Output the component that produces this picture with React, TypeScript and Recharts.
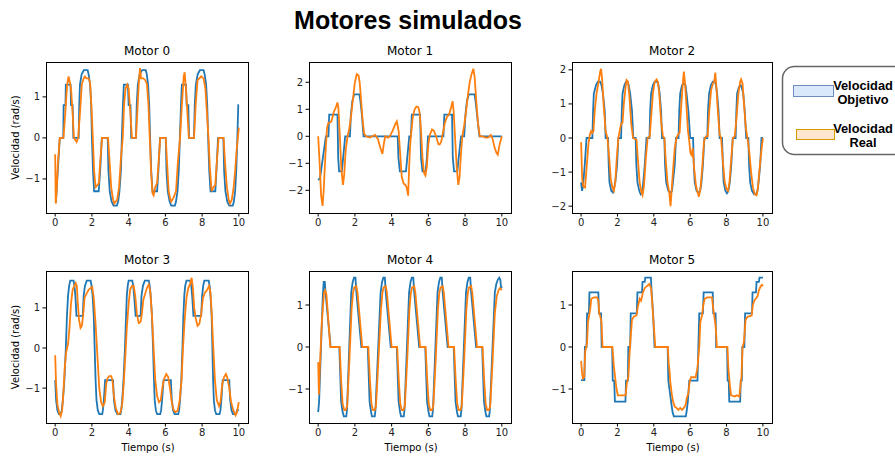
import React from 'react';
import { LineChart, Line, XAxis, YAxis } from 'recharts';

// Velocidad objetivo / real por motor, pares [tiempo (s), velocidad (rad/s)]
const m0Objetivo: [number, number][] = [
  [0, -1.55], [0.04, -1.55], [0.25, 0], [0.44, 0], [0.46, 0.8], [0.56, 0.8], [0.58, 1.3], [0.84, 1.3], [0.86, 0.8], [0.95, 0.8],
  [0.99, 0], [1.28, 0], [1.31, 0.8], [1.35, 1.3], [1.44, 1.55], [1.56, 1.65], [1.77, 1.65], [1.82, 1.55], [1.9, 1.3], [1.96, 0.8],
  [2.0, 0], [2.06, -0.8], [2.12, -1.3], [2.37, -1.3], [2.45, -0.8], [2.54, 0], [2.86, 0], [2.9, -0.8], [2.97, -1.3], [3.07, -1.55],
  [3.18, -1.65], [3.36, -1.65], [3.43, -1.55], [3.5, -1.3], [3.58, -0.8], [3.63, 0], [3.69, 0.8], [3.74, 1.3], [3.96, 1.3], [4.0, 0.8],
  [4.1, 0.8], [4.14, 0], [4.4, 0], [4.44, 0.8], [4.5, 1.3], [4.6, 1.55], [4.73, 1.65], [4.93, 1.65], [4.99, 1.55], [5.06, 1.3],
  [5.12, 0.8], [5.17, 0], [5.23, -0.8], [5.3, -1.3], [5.55, -1.3], [5.62, -0.8], [5.71, 0], [6.02, 0], [6.06, -0.8], [6.13, -1.3],
  [6.23, -1.55], [6.32, -1.65], [6.52, -1.65], [6.58, -1.55], [6.66, -1.3], [6.73, -0.8], [6.79, 0], [6.85, 0.8], [6.9, 1.3], [7.12, 1.3],
  [7.16, 0.8], [7.25, 0.8], [7.29, 0], [7.56, 0], [7.6, 0.8], [7.66, 1.3], [7.76, 1.55], [7.88, 1.65], [8.08, 1.65], [8.14, 1.55],
  [8.22, 1.3], [8.28, 0.8], [8.33, 0], [8.39, -0.8], [8.46, -1.3], [8.72, -1.3], [8.78, -0.8], [8.87, 0], [9.16, 0], [9.2, -0.8],
  [9.27, -1.3], [9.37, -1.55], [9.48, -1.65], [9.67, -1.65], [9.73, -1.55], [9.8, -1.3], [9.86, -0.8], [9.92, 0], [9.97, 0.8], [10, 0.8],
];
const m0Real: [number, number][] = [
  [0, -0.4], [0.03, -1.6], [0.08, -1.3], [0.15, -0.6], [0.25, 0], [0.45, 0], [0.55, 0.6], [0.65, 1.3], [0.73, 1.5], [0.8, 1.35],
  [0.87, 1.15], [0.95, 0.6], [1.02, 0], [1.1, -0.05], [1.17, -0.1], [1.25, 0], [1.35, 0.6], [1.45, 1.3], [1.55, 1.45], [1.62, 1.5],
  [1.7, 1.45], [1.82, 1.45], [1.9, 1.35], [1.97, 0.8], [2.05, 0], [2.12, -0.8], [2.2, -1.2], [2.3, -1.15], [2.38, -1.1], [2.45, -0.6],
  [2.55, 0], [2.88, 0], [2.95, -0.5], [3.05, -1.2], [3.15, -1.5], [3.22, -1.6], [3.3, -1.55], [3.38, -1.5], [3.48, -1.2], [3.58, -0.5],
  [3.68, 0], [3.75, 0.8], [3.83, 1.2], [3.92, 1.3], [4.0, 1.2], [4.08, 0.7], [4.18, 0], [4.4, 0], [4.47, 0.6], [4.55, 1.3],
  [4.62, 1.7], [4.68, 1.45], [4.8, 1.45], [4.92, 1.4], [5.0, 1.3], [5.08, 0.8], [5.15, 0], [5.22, -0.8], [5.3, -1.35], [5.36, -1.4],
  [5.45, -1.2], [5.55, -1.1], [5.63, -0.6], [5.72, 0], [6.02, 0], [6.08, -0.5], [6.18, -1.3], [6.27, -1.5], [6.32, -1.55], [6.45, -1.45],
  [6.58, -1.3], [6.68, -0.6], [6.8, 0], [6.9, 0.8], [7.0, 1.5], [7.05, 1.6], [7.12, 1.2], [7.2, 0.6], [7.28, 0], [7.56, 0],
  [7.65, 0.8], [7.75, 1.4], [7.85, 1.45], [7.95, 1.5], [8.08, 1.45], [8.18, 1.2], [8.28, 0.5], [8.35, 0], [8.42, -0.7], [8.52, -1.3],
  [8.62, -1.2], [8.72, -1.15], [8.8, -0.6], [8.9, 0], [9.17, 0], [9.25, -0.6], [9.35, -1.2], [9.45, -1.5], [9.52, -1.6], [9.62, -1.5],
  [9.72, -1.2], [9.8, -0.8], [9.88, -0.3], [9.95, 0], [10, 0.25],
];

const m1Objetivo: [number, number][] = [
  [0, -1.62], [0.1, -1.55], [0.42, 0], [0.56, 0], [0.6, 0.8], [1.05, 0.8], [1.09, -0.8], [1.14, -1.3], [1.29, -1.3], [1.36, -0.8],
  [1.47, 0], [1.73, 0], [1.78, 0.8], [1.86, 1.3], [1.96, 1.55], [2.24, 1.55], [2.3, 1.3], [2.38, 0.8], [2.47, 0], [4.33, 0],
  [4.37, -0.8], [4.45, -1.3], [4.78, -1.3], [4.85, -0.8], [4.96, 0], [5.05, 0], [5.1, 0.8], [5.55, 0.8], [5.6, -0.8], [5.68, -1.3],
  [5.85, -1.3], [5.92, -0.8], [5.98, 0], [6.82, 0], [6.87, 0.8], [7.29, 0.8], [7.33, -0.8], [7.4, -1.3], [7.58, -1.3], [7.65, -0.8],
  [7.78, 0], [7.95, 0], [8.02, 0.8], [8.1, 1.3], [8.2, 1.55], [8.51, 1.55], [8.57, 1.3], [8.65, 0.8], [8.78, 0], [10, 0],
];
const m1Real: [number, number][] = [
  [0, 0], [0.08, -1.0], [0.16, -2.2], [0.24, -2.58], [0.3, -2.0], [0.4, -0.6], [0.48, 0.3], [0.55, 0.5], [0.62, 0.5], [0.72, 0.55],
  [0.85, 0.9], [0.95, 1.05], [1.05, 1.25], [1.1, 1.05], [1.18, 0], [1.26, -1.2], [1.35, -1.8], [1.42, -1.4], [1.5, -0.5], [1.6, 0],
  [1.7, 0.3], [1.8, 0.8], [1.9, 1.4], [2.0, 2.0], [2.1, 2.3], [2.2, 2.25], [2.26, 2.0], [2.33, 1.4], [2.42, 0.6], [2.5, 0.1],
  [2.6, 0], [2.8, -0.05], [2.95, 0], [3.1, 0.05], [3.25, -0.1], [3.4, -0.45], [3.5, -0.65], [3.57, -0.3], [3.65, 0], [3.8, -0.05],
  [3.9, 0], [4.05, 0.2], [4.2, 0.45], [4.28, 0.55], [4.38, 0.2], [4.45, -0.5], [4.55, -1.5], [4.65, -1.75], [4.75, -1.8], [4.82, -1.9],
  [4.9, -2.2], [4.95, -1.2], [5.0, -0.4], [5.05, 0], [5.15, 0.7], [5.25, 1.0], [5.35, 1.1], [5.45, 1.08], [5.52, 0.9], [5.6, 0.2],
  [5.68, -0.8], [5.76, -1.35], [5.84, -1.45], [5.92, -1.1], [6.0, -0.3], [6.08, 0.05], [6.2, 0.25], [6.3, 0.2], [6.42, 0], [6.55, -0.3],
  [6.62, -0.3], [6.7, -0.2], [6.8, 0.15], [6.9, 0.5], [7.0, 0.7], [7.15, 0.85], [7.25, 1.1], [7.32, 1.3], [7.38, 0.9], [7.45, 0],
  [7.55, -1.2], [7.63, -1.8], [7.7, -1.5], [7.78, -0.6], [7.85, 0], [7.95, 0.4], [8.05, 0.9], [8.15, 1.5], [8.25, 2.0], [8.35, 2.3],
  [8.45, 2.5], [8.52, 2.2], [8.6, 1.4], [8.7, 0.5], [8.8, 0], [8.95, 0], [9.1, -0.05], [9.25, -0.05], [9.4, 0.05], [9.5, -0.1],
  [9.6, -0.4], [9.7, -0.6], [9.78, -0.68], [9.88, -0.3], [10, 0],
];

const m2Objetivo: [number, number][] = [
  [0, -1.3], [0.05, -1.55], [0.1, -1.45], [0.2, -0.8], [0.3, 0], [0.62, 0], [0.66, 0.8], [0.7, 1.3], [0.82, 1.55], [0.92, 1.65],
  [1.05, 1.65], [1.12, 1.55], [1.2, 1.3], [1.3, 0.8], [1.35, 0], [1.48, 0], [1.52, -0.8], [1.56, -1.3], [1.66, -1.55], [1.75, -1.6],
  [1.8, -1.5], [1.88, -1.3], [1.98, -0.8], [2.05, 0], [2.2, 0], [2.24, 0.8], [2.28, 1.3], [2.38, 1.55], [2.47, 1.65], [2.56, 1.65],
  [2.62, 1.55], [2.7, 1.3], [2.8, 0.8], [2.87, 0], [3.0, 0], [3.04, -0.8], [3.1, -1.3], [3.2, -1.55], [3.28, -1.65], [3.36, -1.6],
  [3.42, -1.3], [3.5, -0.8], [3.6, 0], [3.76, 0], [3.8, 0.8], [3.85, 1.3], [3.95, 1.55], [4.05, 1.65], [4.2, 1.65], [4.26, 1.55],
  [4.32, 1.3], [4.4, 0.8], [4.45, 0], [4.58, 0], [4.62, -0.8], [4.68, -1.3], [4.8, -1.55], [4.93, -1.6], [5.0, -1.55], [5.05, -1.3],
  [5.15, -0.8], [5.22, 0], [5.36, 0], [5.4, 0.8], [5.45, 1.3], [5.55, 1.55], [5.66, 1.6], [5.74, 1.55], [5.8, 1.3], [5.9, 0.8],
  [6.0, 0], [6.16, 0], [6.2, -0.8], [6.25, -1.3], [6.35, -1.55], [6.45, -1.6], [6.55, -1.55], [6.62, -1.3], [6.7, -0.8], [6.78, 0],
  [6.94, 0], [6.98, 0.8], [7.04, 1.3], [7.14, 1.55], [7.25, 1.65], [7.36, 1.65], [7.42, 1.55], [7.48, 1.3], [7.56, 0.8], [7.62, 0],
  [7.75, 0], [7.8, -0.8], [7.84, -1.3], [7.94, -1.55], [8.02, -1.62], [8.1, -1.55], [8.18, -1.3], [8.26, -0.8], [8.34, 0], [8.5, 0],
  [8.54, 0.8], [8.58, 1.3], [8.68, 1.5], [8.78, 1.55], [8.85, 1.45], [8.92, 1.3], [9.0, 0.8], [9.08, 0], [9.2, 0], [9.24, -0.8],
  [9.3, -1.3], [9.4, -1.55], [9.52, -1.65], [9.62, -1.65], [9.7, -1.55], [9.76, -1.3], [9.85, -0.8], [9.92, 0], [10, 0],
];
const m2Real: [number, number][] = [
  [0, -0.12], [0.06, -1.2], [0.12, -1.42], [0.22, -1.45], [0.3, -0.9], [0.4, -0.2], [0.48, 0.1], [0.55, 0.2], [0.62, 0.15], [0.68, 0.2],
  [0.75, 0.8], [0.85, 1.3], [0.95, 1.6], [1.05, 1.95], [1.1, 2.03], [1.16, 1.7], [1.25, 0.9], [1.35, 0.2], [1.45, 0], [1.55, -0.6],
  [1.63, -1.2], [1.72, -1.45], [1.8, -1.55], [1.88, -1.3], [1.96, -0.6], [2.05, 0], [2.12, 0.2], [2.2, 0.42], [2.28, 0.45], [2.35, 1.0],
  [2.45, 1.5], [2.5, 1.7], [2.58, 1.65], [2.66, 1.2], [2.76, 0.4], [2.86, 0], [3.05, -0.05], [3.12, -0.6], [3.22, -1.3], [3.32, -1.6],
  [3.38, -1.68], [3.46, -1.4], [3.56, -0.6], [3.66, 0], [3.78, 0.05], [3.85, 0.6], [3.95, 1.3], [4.05, 1.65], [4.15, 1.72], [4.22, 1.65],
  [4.3, 1.3], [4.4, 0.5], [4.5, 0.05], [4.58, 0], [4.65, -0.6], [4.75, -1.3], [4.85, -1.6], [4.92, -2.0], [4.98, -1.55], [5.05, -1.0],
  [5.15, -0.3], [5.25, 0], [5.35, 0.12], [5.42, 0.15], [5.5, 0.9], [5.58, 1.5], [5.65, 1.95], [5.72, 1.6], [5.8, 0.9], [5.88, 0.2],
  [5.95, -0.1], [6.02, -0.45], [6.08, -0.5], [6.14, -0.3], [6.22, -0.9], [6.32, -1.4], [6.42, -1.62], [6.48, -1.72], [6.56, -1.5], [6.66, -0.9],
  [6.76, -0.1], [6.86, 0.05], [6.96, 0.05], [7.05, 0.8], [7.15, 1.4], [7.25, 1.6], [7.32, 1.65], [7.38, 1.92], [7.44, 1.5], [7.52, 0.8],
  [7.62, 0.1], [7.7, 0], [7.8, -0.7], [7.9, -1.3], [8.0, -1.5], [8.08, -1.55], [8.16, -1.3], [8.26, -0.6], [8.35, 0], [8.45, 0.05],
  [8.55, 0.6], [8.65, 1.3], [8.75, 1.65], [8.8, 1.72], [8.88, 1.6], [8.96, 1.0], [9.06, 0.3], [9.15, 0], [9.25, -0.4], [9.35, -1.0],
  [9.45, -1.45], [9.55, -1.65], [9.65, -1.68], [9.72, -1.5], [9.8, -1.0], [9.9, -0.45], [10, 0],
];

const m3Objetivo: [number, number][] = [
  [0, -0.8], [0.05, -1.3], [0.12, -1.55], [0.2, -1.65], [0.3, -1.65], [0.36, -1.55], [0.42, -1.3], [0.5, -0.8], [0.58, 0], [0.64, 0.8],
  [0.7, 1.3], [0.76, 1.55], [0.82, 1.68], [1.0, 1.68], [1.05, 1.55], [1.1, 1.3], [1.16, 0.8], [1.5, 0.8], [1.55, 1.3], [1.62, 1.55],
  [1.72, 1.68], [1.93, 1.68], [1.98, 1.55], [2.04, 1.3], [2.1, 0.8], [2.15, 0], [2.2, -0.8], [2.25, -1.3], [2.32, -1.55], [2.4, -1.65],
  [2.56, -1.65], [2.6, -1.55], [2.65, -1.3], [2.72, -0.8], [3.15, -0.8], [3.2, -1.3], [3.28, -1.55], [3.38, -1.65], [3.55, -1.65], [3.6, -1.55],
  [3.65, -1.3], [3.72, -0.8], [3.8, 0], [3.86, 0.8], [3.9, 1.3], [3.95, 1.55], [4.0, 1.68], [4.2, 1.68], [4.25, 1.55], [4.3, 1.3],
  [4.38, 0.8], [4.65, 0.8], [4.7, 1.3], [4.78, 1.55], [4.88, 1.68], [5.1, 1.68], [5.15, 1.55], [5.2, 1.3], [5.27, 0.8], [5.33, 0],
  [5.38, -0.8], [5.42, -1.3], [5.48, -1.55], [5.55, -1.65], [5.72, -1.65], [5.77, -1.55], [5.82, -1.3], [5.9, -0.8], [6.3, -0.8], [6.35, -1.3],
  [6.42, -1.55], [6.5, -1.65], [6.7, -1.65], [6.75, -1.55], [6.8, -1.3], [6.87, -0.8], [6.93, 0], [6.98, 0.8], [7.03, 1.3], [7.08, 1.55],
  [7.15, 1.68], [7.36, 1.68], [7.41, 1.55], [7.46, 1.3], [7.53, 0.8], [7.95, 0.8], [8.0, 1.3], [8.06, 1.55], [8.12, 1.68], [8.36, 1.68],
  [8.41, 1.55], [8.46, 1.3], [8.52, 0.8], [8.56, 0], [8.6, -0.8], [8.64, -1.3], [8.7, -1.55], [8.77, -1.65], [8.95, -1.65], [9.0, -1.55],
  [9.05, -1.3], [9.12, -0.8], [9.48, -0.8], [9.53, -1.3], [9.6, -1.55], [9.68, -1.65], [9.85, -1.65], [9.9, -1.55], [10, -1.55],
];
const m3Real: [number, number][] = [
  [0, -0.18], [0.05, -0.9], [0.12, -1.4], [0.22, -1.62], [0.3, -1.7], [0.38, -1.55], [0.45, -1.1], [0.52, -0.5], [0.6, -0.1], [0.7, 0.1],
  [0.78, 0.5], [0.86, 1.1], [0.95, 1.45], [1.05, 1.55], [1.12, 1.62], [1.18, 1.55], [1.22, 1.2], [1.3, 0.7], [1.38, 0.5], [1.45, 0.55],
  [1.52, 0.8], [1.6, 1.25], [1.7, 1.35], [1.82, 1.45], [1.95, 1.5], [2.02, 1.52], [2.1, 1.25], [2.2, 0.6], [2.3, -0.2], [2.4, -1.0],
  [2.5, -1.35], [2.6, -1.45], [2.7, -1.35], [2.78, -0.9], [2.85, -0.75], [2.95, -0.7], [3.05, -0.7], [3.12, -0.8], [3.2, -1.2], [3.3, -1.5],
  [3.42, -1.65], [3.55, -1.62], [3.65, -1.4], [3.73, -0.9], [3.82, -0.2], [3.9, 0.5], [4.0, 1.1], [4.08, 1.45], [4.18, 1.55], [4.28, 1.55],
  [4.36, 1.3], [4.45, 0.85], [4.55, 0.62], [4.65, 0.65], [4.72, 0.85], [4.8, 1.2], [4.9, 1.35], [5.0, 1.5], [5.1, 1.58], [5.18, 1.4],
  [5.27, 0.8], [5.36, 0], [5.45, -0.8], [5.55, -1.2], [5.65, -1.35], [5.75, -1.3], [5.85, -0.95], [5.95, -0.75], [6.05, -0.65], [6.15, -0.72],
  [6.25, -1.0], [6.35, -1.35], [6.45, -1.55], [6.55, -1.6], [6.68, -1.55], [6.78, -1.3], [6.88, -0.8], [6.96, 0], [7.05, 0.7], [7.15, 1.25],
  [7.25, 1.5], [7.35, 1.6], [7.43, 1.75], [7.5, 1.5], [7.57, 1.0], [7.65, 0.75], [7.75, 0.55], [7.85, 0.6], [7.95, 0.85], [8.05, 1.25],
  [8.15, 1.38], [8.28, 1.45], [8.38, 1.55], [8.45, 1.4], [8.52, 0.9], [8.6, 0.1], [8.7, -0.8], [8.8, -1.3], [8.92, -1.45], [9.0, -1.35],
  [9.1, -0.9], [9.2, -0.72], [9.3, -0.65], [9.38, -0.75], [9.48, -1.0], [9.58, -1.35], [9.7, -1.55], [9.82, -1.68], [9.9, -1.6], [10, -1.35],
];

const m4Objetivo: [number, number][] = [
  [0, -1.55], [0.05, -1.3], [0.25, 1.2], [0.3, 1.55], [0.36, 1.55], [0.42, 1.2], [0.68, 0], [1.15, 0], [1.25, -1.3], [1.33, -1.55],
  [1.4, -1.65], [1.53, -1.65], [1.57, -1.5], [1.8, 1.3], [1.88, 1.55], [1.95, 1.65], [2.03, 1.65], [2.08, 1.3], [2.35, 0], [2.7, 0],
  [2.8, -1.3], [2.88, -1.55], [2.93, -1.65], [3.08, -1.65], [3.12, -1.5], [3.4, 1.3], [3.48, 1.55], [3.55, 1.65], [3.63, 1.65], [3.68, 1.3],
  [3.95, 0], [4.28, 0], [4.38, -1.3], [4.46, -1.55], [4.51, -1.65], [4.66, -1.65], [4.7, -1.5], [4.95, 1.3], [5.03, 1.55], [5.1, 1.65],
  [5.18, 1.65], [5.23, 1.3], [5.5, 0], [5.83, 0], [5.93, -1.3], [6.01, -1.55], [6.06, -1.65], [6.21, -1.65], [6.25, -1.5], [6.5, 1.3],
  [6.58, 1.55], [6.65, 1.65], [6.73, 1.65], [6.78, 1.3], [7.05, 0], [7.38, 0], [7.48, -1.3], [7.56, -1.55], [7.61, -1.65], [7.76, -1.65],
  [7.8, -1.5], [8.05, 1.3], [8.13, 1.55], [8.2, 1.65], [8.28, 1.65], [8.33, 1.3], [8.6, 0], [8.93, 0], [9.03, -1.3], [9.11, -1.55],
  [9.16, -1.65], [9.31, -1.65], [9.35, -1.5], [9.62, 1.3], [9.7, 1.5], [9.78, 1.6], [9.86, 1.65], [9.92, 1.6], [9.96, 1.4], [10, 1.45],
];
const m4Real: [number, number][] = [
  [0, -0.36], [0.04, -1.13], [0.08, -0.6], [0.2, 0.6], [0.32, 1.3], [0.38, 1.35], [0.45, 1.25], [0.66, 0], [1.17, 0], [1.25, -0.8],
  [1.33, -1.35], [1.42, -1.5], [1.5, -1.5], [1.58, -1.4], [1.7, -0.3], [1.82, 0.9], [1.9, 1.3], [1.97, 1.42], [2.08, 1.45], [2.14, 1.3],
  [2.4, 0], [2.73, 0], [2.82, -0.8], [2.9, -1.35], [2.98, -1.5], [3.08, -1.5], [3.15, -1.4], [3.28, -0.3], [3.42, 0.9], [3.5, 1.3],
  [3.57, 1.42], [3.68, 1.45], [3.74, 1.3], [4.0, 0], [4.3, 0], [4.39, -0.8], [4.47, -1.35], [4.55, -1.5], [4.65, -1.5], [4.72, -1.4],
  [4.85, -0.3], [4.97, 0.9], [5.05, 1.3], [5.12, 1.42], [5.23, 1.45], [5.29, 1.3], [5.55, 0], [5.85, 0], [5.94, -0.8], [6.02, -1.35],
  [6.1, -1.5], [6.2, -1.5], [6.27, -1.4], [6.4, -0.3], [6.52, 0.9], [6.6, 1.3], [6.67, 1.42], [6.78, 1.45], [6.84, 1.3], [7.1, 0],
  [7.4, 0], [7.49, -0.8], [7.57, -1.35], [7.65, -1.5], [7.75, -1.5], [7.82, -1.4], [7.95, -0.3], [8.07, 0.9], [8.15, 1.3], [8.22, 1.42],
  [8.33, 1.45], [8.39, 1.3], [8.65, 0], [8.95, 0], [9.04, -0.8], [9.12, -1.35], [9.2, -1.5], [9.3, -1.5], [9.37, -1.4], [9.5, -0.3],
  [9.62, 0.8], [9.72, 1.2], [9.82, 1.35], [9.9, 1.4], [9.95, 1.38], [10, 1.35],
];

const m5Objetivo: [number, number][] = [
  [0, -0.79], [0.18, -0.79], [0.21, 0], [0.3, 0], [0.33, 0.8], [0.43, 0.8], [0.46, 1.3], [0.95, 1.3], [0.98, 0.8], [1.1, 0.8],
  [1.13, 0], [1.71, 0], [1.74, -0.8], [1.82, -0.8], [1.86, -1.3], [2.44, -1.3], [2.47, -0.8], [2.57, -0.8], [2.6, 0], [2.7, 0],
  [2.73, 0.8], [3.06, 0.8], [3.1, 1.3], [3.35, 1.3], [3.38, 1.55], [3.5, 1.55], [3.53, 1.65], [3.84, 1.65], [3.88, 1.3], [3.96, 0.8],
  [4.04, 0], [4.76, 0], [4.8, -0.8], [4.95, -1.3], [5.03, -1.55], [5.1, -1.65], [5.76, -1.65], [5.8, -1.55], [5.87, -1.3], [5.95, -0.8],
  [6.4, -0.8], [6.45, 0], [6.5, 0.8], [6.7, 0.8], [6.74, 1.3], [7.24, 1.3], [7.27, 0.8], [7.4, 0.8], [7.43, 0], [8.03, 0],
  [8.06, -0.8], [8.12, -0.8], [8.15, -1.3], [8.75, -1.3], [8.78, -0.8], [8.84, -0.8], [8.87, 0], [8.98, 0], [9.02, 0.8], [9.4, 0.8],
  [9.43, 1.3], [9.62, 1.3], [9.65, 1.55], [9.78, 1.55], [9.81, 1.65], [10, 1.65],
];
const m5Real: [number, number][] = [
  [0, -0.33], [0.05, -0.6], [0.1, -0.75], [0.17, -0.72], [0.23, -0.1], [0.28, 0], [0.33, 0.1], [0.38, 0.6], [0.43, 0.72], [0.5, 0.9],
  [0.56, 1.15], [0.7, 1.18], [0.88, 1.18], [0.95, 1.1], [1.0, 0.8], [1.06, 0.72], [1.12, 0.6], [1.18, 0], [1.72, 0], [1.8, -0.45],
  [1.88, -0.75], [1.95, -1.0], [2.02, -1.15], [2.45, -1.15], [2.52, -0.85], [2.6, -0.72], [2.66, -0.2], [2.72, 0.2], [2.8, 0.65], [2.9, 0.72],
  [3.05, 0.75], [3.12, 0.95], [3.22, 1.15], [3.3, 1.1], [3.4, 1.3], [3.5, 1.4], [3.62, 1.45], [3.75, 1.5], [3.85, 1.4], [3.92, 1.0],
  [4.0, 0.5], [4.08, 0], [4.77, 0], [4.82, -0.4], [4.86, -0.55], [4.9, -0.8], [4.98, -1.1], [5.06, -1.3], [5.15, -1.42], [5.25, -1.45],
  [5.35, -1.5], [5.45, -1.45], [5.55, -1.5], [5.65, -1.45], [5.75, -1.38], [5.82, -1.2], [5.9, -1.1], [5.98, -0.8], [6.05, -0.72], [6.3, -0.72],
  [6.4, -0.5], [6.5, 0], [6.56, 0.6], [6.65, 0.75], [6.72, 1.0], [6.8, 1.15], [6.95, 1.18], [7.2, 1.18], [7.27, 0.9], [7.33, 0.72],
  [7.4, 0.5], [7.47, 0], [8.05, 0], [8.1, -0.5], [8.18, -0.9], [8.25, -1.15], [8.45, -1.18], [8.55, -1.15], [8.7, -1.18], [8.77, -0.9],
  [8.82, -0.7], [8.88, 0], [8.95, 0.1], [9.05, 0.65], [9.15, 0.72], [9.38, 0.75], [9.45, 1.0], [9.52, 1.1], [9.6, 1.15], [9.7, 1.2],
  [9.78, 1.35], [9.88, 1.45], [9.95, 1.48], [10, 1.45],
];

const xTicks = [0, 2, 4, 6, 8, 10];
const yTicksSmall = [-1, 0, 1];
const yTicksWide = [-2, -1, 0, 1, 2];

const BLUE = '#1f77b4';
const ORANGE = '#ff7f0e';
const FONT = '"DejaVu Sans", sans-serif';
const SANS = '"Liberation Sans", Arial, sans-serif';
const YW = 40;
const XH = 30;

type Panel = {
  title: string;
  objetivo: [number, number][];
  real: [number, number][];
  yDomain: [number, number];
  yTicks: number[];
  box: { left: number; top: number; width: number; height: number };
  yLabel: boolean;
  xLabel: boolean;
};

const panels: Panel[] = [
  { title: 'Motor 0', objetivo: m0Objetivo, real: m0Real, yDomain: [-1.83, 1.85], yTicks: yTicksSmall, box: { left: 46, top: 62, width: 202, height: 151 }, yLabel: true, xLabel: false },
  { title: 'Motor 1', objetivo: m1Objetivo, real: m1Real, yDomain: [-2.84, 2.75], yTicks: yTicksWide, box: { left: 309, top: 62, width: 202, height: 151 }, yLabel: false, xLabel: false },
  { title: 'Motor 2', objetivo: m2Objetivo, real: m2Real, yDomain: [-2.2, 2.23], yTicks: yTicksWide, box: { left: 572, top: 62, width: 200, height: 151 }, yLabel: false, xLabel: false },
  { title: 'Motor 3', objetivo: m3Objetivo, real: m3Real, yDomain: [-1.87, 1.92], yTicks: yTicksSmall, box: { left: 46, top: 271, width: 202, height: 152 }, yLabel: true, xLabel: true },
  { title: 'Motor 4', objetivo: m4Objetivo, real: m4Real, yDomain: [-1.81, 1.81], yTicks: yTicksSmall, box: { left: 309, top: 271, width: 202, height: 152 }, yLabel: false, xLabel: true },
  { title: 'Motor 5', objetivo: m5Objetivo, real: m5Real, yDomain: [-1.81, 1.81], yTicks: yTicksSmall, box: { left: 572, top: 271, width: 200, height: 152 }, yLabel: false, xLabel: true },
];

const toRows = (pts: [number, number][]) => pts.map(([t, v]) => ({ t, v }));
const fmt = (v: number) => (v < 0 ? `\u2212${Math.abs(v)}` : `${v}`);
const tickStyle = { fontSize: 10, fill: '#222', fontFamily: FONT };

function MotorPanel({ p }: { p: Panel }) {
  const { box } = p;
  return (
    <div style={{ position: 'absolute', left: box.left - YW, top: box.top }}>
      <LineChart width={box.width + YW} height={box.height + XH} margin={{ top: 0, right: 0, bottom: 0, left: 0 }}>
        <XAxis
          dataKey="t"
          type="number"
          domain={[-0.5, 10.5]}
          ticks={xTicks}
          interval={0}
          allowDataOverflow
          height={XH}
          axisLine={false}
          tickSize={3.5}
          tickMargin={2}
          tickLine={{ stroke: '#000' }}
          tick={tickStyle}
        />
        <YAxis
          type="number"
          domain={p.yDomain}
          ticks={p.yTicks}
          interval={0}
          allowDataOverflow
          width={YW}
          axisLine={false}
          tickSize={3.5}
          tickMargin={2.5}
          tickLine={{ stroke: '#000' }}
          tick={tickStyle}
          tickFormatter={fmt}
        />
        <Line data={toRows(p.objetivo)} dataKey="v" name="Velocidad Objetivo" stroke={BLUE} strokeWidth={1.8} dot={false} isAnimationActive={false} />
        <Line data={toRows(p.real)} dataKey="v" name="Velocidad Real" stroke={ORANGE} strokeWidth={1.8} dot={false} isAnimationActive={false} />
      </LineChart>
    </div>
  );
}

export default function App() {
  return (
    <div style={{ position: 'absolute', left: 0, top: 0, width: 895, height: 457, background: '#fff', overflow: 'hidden' }}>
      {panels.map((p) => (
        <MotorPanel key={p.title} p={p} />
      ))}
      <svg width={895} height={457} style={{ position: 'absolute', left: 0, top: 0, pointerEvents: 'none' }}>
        <text x={408} y={29} textAnchor="middle" fontFamily={SANS} fontWeight="bold" fontSize={25} fill="#000">
          Motores simulados
        </text>
        {panels.map((p) => (
          <g key={p.title}>
            <rect x={p.box.left + 0.5} y={p.box.top + 0.5} width={p.box.width} height={p.box.height} fill="none" stroke="#000" strokeWidth={1} />
            <text x={p.box.left + p.box.width / 2} y={p.box.top - 7} textAnchor="middle" fontFamily={FONT} fontSize={12} fill="#000">
              {p.title}
            </text>
            {p.yLabel && (
              <text transform={`translate(19,${p.box.top + p.box.height / 2}) rotate(-90)`} textAnchor="middle" fontFamily={FONT} fontSize={10} fill="#000">
                Velocidad (rad/s)
              </text>
            )}
            {p.xLabel && (
              <text x={p.box.left + p.box.width / 2 + 1} y={p.box.top + p.box.height + 28} textAnchor="middle" fontFamily={FONT} fontSize={10} fill="#000">
                Tiempo (s)
              </text>
            )}
          </g>
        ))}
        <g fontFamily={SANS} fontWeight="bold" fontSize={12.8} fill="#000">
          <rect x={782.5} y={66.5} width={130} height={88} rx={12} fill="#fff" stroke="#666" strokeWidth={1.5} />
          <rect x={793.5} y={85.5} width={40} height={11} fill="#dae8fc" stroke="#6c8ebf" strokeWidth={1} />
          <rect x={796.5} y={129.5} width={38} height={10} fill="#ffe6cc" stroke="#d79b00" strokeWidth={1} />
          <text x={863} y={90} textAnchor="middle">Velocidad</text>
          <text x={863} y={103.5} textAnchor="middle">Objetivo</text>
          <text x={863} y={133} textAnchor="middle">Velocidad</text>
          <text x={863} y={147} textAnchor="middle">Real</text>
        </g>
      </svg>
    </div>
  );
}
